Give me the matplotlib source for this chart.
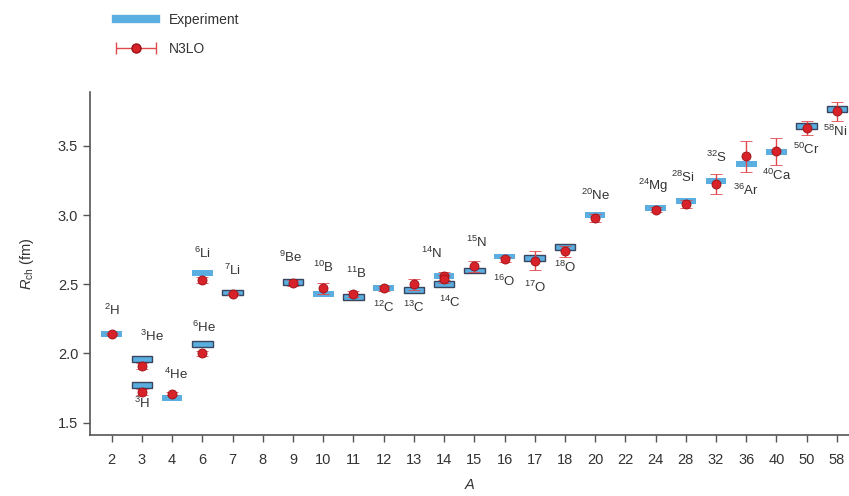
import numpy as np
import matplotlib
matplotlib.use('Agg')
import matplotlib.pyplot as plt
from matplotlib.lines import Line2D
from matplotlib.legend_handler import HandlerErrorbar

plt.rcParams['font.family'] = ['Liberation Sans', 'DejaVu Sans']
plt.rcParams['mathtext.fontset'] = 'custom'
plt.rcParams['mathtext.rm'] = 'Liberation Sans'
plt.rcParams['mathtext.it'] = 'Liberation Sans:italic'

# x axis categories (mass number A)
a_ticks = ['2', '3', '4', '6', '7', '8', '9', '10', '11', '12', '13', '14', '15',
           '16', '17', '18', '20', '22', '24', '28', '32', '36', '40', '50', '58']

# nuclei: mass number, symbol, A column, experiment, N3LO, N3LO error, boxed
mass = ['2', '3', '3', '4', '6', '6', '7', '9', '10', '11', '12', '13', '14', '14',
        '15', '16', '17', '18', '20', '24', '28', '32', '36', '40', '50', '58']
elem = ['H', 'He', 'H', 'He', 'He', 'Li', 'Li', 'Be', 'B', 'B', 'C', 'C', 'N', 'C',
        'N', 'O', 'O', 'O', 'Ne', 'Mg', 'Si', 'S', 'Ar', 'Ca', 'Cr', 'Ni']
col = ['2', '3', '3', '4', '6', '6', '7', '9', '10', '11', '12', '13', '14', '14',
       '15', '16', '17', '18', '20', '24', '28', '32', '36', '40', '50', '58']
r_exp = [2.14, 1.96, 1.77, 1.68, 2.07, 2.58, 2.44, 2.515, 2.43, 2.405, 2.47, 2.46,
         2.56, 2.50, 2.60, 2.70, 2.69, 2.77, 3.00, 3.05, 3.10, 3.245, 3.37, 3.455,
         3.645, 3.765]
r_n3lo = [2.14, 1.91, 1.72, 1.71, 2.00, 2.53, 2.43, 2.51, 2.47, 2.43, 2.47, 2.50,
          2.56, 2.54, 2.63, 2.68, 2.67, 2.74, 2.98, 3.04, 3.08, 3.225, 3.425, 3.46,
          3.63, 3.75]
r_err = [0.01, 0.02, 0.02, 0.01, 0.02, 0.02, 0.01, 0.02, 0.04, 0.02, 0.02, 0.04,
         0.03, 0.03, 0.04, 0.02, 0.07, 0.04, 0.03, 0.02, 0.03, 0.07, 0.11, 0.10,
         0.05, 0.07]
boxed = [0, 1, 1, 0, 1, 0, 1, 1, 0, 1, 0, 1, 0, 1, 1, 0, 1, 1, 0, 0, 0, 0, 0, 0, 1, 1]
# label offsets in points
lab_dx = [0, 7, 0, 3, 1, 0, 0, -2, 0, 2, 0, 0, -9, 4, 2, 0, 0, 0, 0, -2, -2, 0, 0, 0, 0, -1]
lab_dy = [17, 16, -13, 17, 12, 14, 16, 18, 19, 17, -14, -13, 16, -13, 20, -18, -21,
          -15, 14, 16, 17, 17, -19, -17, -17, -16]

blue = '#5aaee0'
red = '#d8222a'

fig = plt.figure(figsize=(8.49, 4.96), dpi=100)
ax = fig.add_axes([90 / 849, 61 / 496, 1 - 90 / 849, 343 / 496])

xi = np.array([a_ticks.index(c) for c in col])
r_exp = np.array(r_exp)

for i in range(len(xi)):
    ec = '#3a4560' if boxed[i] else blue
    lw = 1.0 if boxed[i] else 0
    ax.bar(xi[i], 0.042, bottom=r_exp[i] - 0.021, width=0.68, color=blue,
           edgecolor=ec, linewidth=lw, zorder=2)

ax.errorbar(xi, r_n3lo, yerr=r_err, fmt='o', ms=6.5, color=red, mec='#9a1015',
            mew=0.6, ecolor='#e0484c', elinewidth=1.0, capsize=4.5, capthick=1.0,
            zorder=3)

for i in range(len(xi)):
    ax.annotate(r'$^{%s}$%s' % (mass[i], elem[i]), (xi[i], r_exp[i]),
                xytext=(lab_dx[i], lab_dy[i]), textcoords='offset points',
                ha='center', va='center', fontsize=9.5, color='#333333', zorder=4)

ax.set_xlim(-0.72, 24.4)
ax.set_ylim(1.41, 3.89)
ax.set_xticks(range(len(a_ticks)))
ax.set_xticklabels(a_ticks)
ax.set_yticks([1.5, 2.0, 2.5, 3.0, 3.5])
ax.set_yticklabels(['1.5', '2.0', '2.5', '3.0', '3.5'])
ax.spines['top'].set_visible(False)
ax.spines['right'].set_visible(False)
for s in ['left', 'bottom']:
    ax.spines[s].set_color('#555555')
    ax.spines[s].set_linewidth(1.2)
ax.tick_params(direction='out', length=5, width=1, colors='#555555',
               labelcolor='#333333', labelsize=10.5)
ax.tick_params(axis='x', pad=8)
ax.set_xlabel('$A$', fontsize=10.5, color='#333333', labelpad=8)
ax.set_ylabel(r'$R_{\mathrm{ch}}$ (fm)', fontsize=10.5, color='#333333', labelpad=16)

# legend
h_exp = Line2D([], [], color=blue, lw=6)
h_th = ax.errorbar([np.nan], [np.nan], xerr=[1], fmt='o', ms=6.5, color=red,
                   mec='#9a1015', ecolor='#e0484c', elinewidth=1.0, capsize=4)
fig.legend([h_exp, h_th], ['Experiment', 'N3LO'], loc='upper left',
           bbox_to_anchor=(0.122, 1.0), frameon=False, fontsize=10,
           labelspacing=1.1, handlelength=2.9, handletextpad=0.9,
           labelcolor='#333333',
           handler_map={type(h_th): HandlerErrorbar(xerr_size=1.45)})

fig.savefig('out.png', dpi=100)
